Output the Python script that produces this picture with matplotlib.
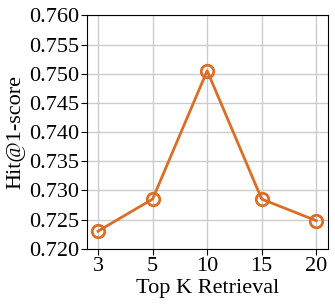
import matplotlib
matplotlib.use("Agg")
import matplotlib.pyplot as plt

top_k = ["3", "5", "10", "15", "20"]
hit1 = [0.7230, 0.7285, 0.7505, 0.7285, 0.7248]
y_ticks = [0.720, 0.725, 0.730, 0.735, 0.740, 0.745, 0.750, 0.755, 0.760]

plt.rcParams['font.family'] = ['Liberation Serif', 'DejaVu Serif']
plt.rcParams['font.size'] = 16

fig, ax = plt.subplots(figsize=(3.35, 3.07), dpi=100)
x = list(range(len(top_k)))
ax.plot(x, hit1, color='#DA6E26', linewidth=2, marker='o', markersize=9,
        markerfacecolor='none', markeredgewidth=2)
ax.set_xticks(x)
ax.set_xticklabels(top_k)
ax.set_xlim(-0.2, 4.22)
ax.set_ylim(0.720, 0.760)
ax.set_yticks(y_ticks)
ax.set_yticklabels(["%.3f" % v for v in y_ticks])
ax.grid(True, color='#cccccc', linewidth=1)
ax.set_axisbelow(True)
ax.set_xlabel("Top K Retrieval", labelpad=2)
ax.set_ylabel("Hit@1-score", labelpad=2)
ax.tick_params(length=4, pad=2)

fig.subplots_adjust(left=0.26, right=0.98, top=0.95, bottom=0.19)
fig.savefig("out.png")
